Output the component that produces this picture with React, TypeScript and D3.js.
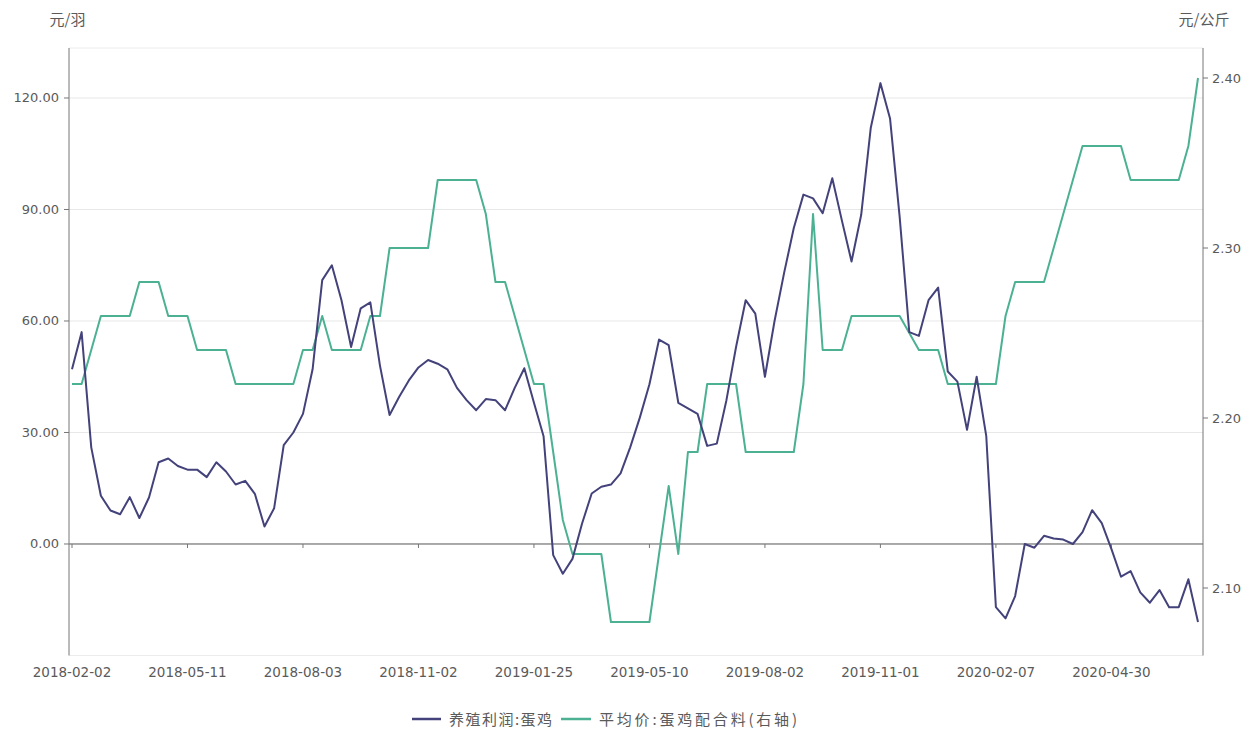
import React from "react";
import * as d3 from "d3";

const profit: number[] = [
  47, 57, 26, 13, 9, 8, 12.6, 7, 12.5, 22,
  23, 21, 20, 20, 18, 22, 19.5, 16, 17, 13.5,
  4.7, 9.6, 26.6, 30, 35, 47, 71, 75, 65.6, 53,
  63.4, 65, 48, 34.7, 39.6, 44, 47.5, 49.5, 48.5, 47,
  42, 38.7, 36, 39, 38.7, 36, 42, 47.3, 38, 29,
  -3, -8, -4, 5.5, 13.6, 15.4, 16, 19, 26, 34,
  43, 55, 53.5, 38, 36.5, 35, 26.4, 27, 38.7, 53,
  65.6, 62, 45, 60, 73, 85, 94, 93, 89, 98.4,
  87, 76, 88.5, 112, 124, 114.5, 88, 57, 56, 65.6,
  69, 46.4, 43.7, 30.7, 45, 29, -17, -20, -14, 0,
  -1, 2.2, 1.5, 1.2, 0, 3.2, 9.1, 5.6, -1.3, -8.8,
  -7.3, -13, -15.8, -12.4, -17, -17, -9.5, -21,
];

const feedPrice: number[] = [
  2.22, 2.22, 2.24, 2.26, 2.26, 2.26, 2.26, 2.28, 2.28, 2.28,
  2.26, 2.26, 2.26, 2.24, 2.24, 2.24, 2.24, 2.22, 2.22, 2.22,
  2.22, 2.22, 2.22, 2.22, 2.24, 2.24, 2.26, 2.24, 2.24, 2.24,
  2.24, 2.26, 2.26, 2.30, 2.30, 2.30, 2.30, 2.30, 2.34, 2.34,
  2.34, 2.34, 2.34, 2.32, 2.28, 2.28, 2.26, 2.24, 2.22, 2.22,
  2.18, 2.14, 2.12, 2.12, 2.12, 2.12, 2.08, 2.08, 2.08, 2.08,
  2.08, 2.12, 2.16, 2.12, 2.18, 2.18, 2.22, 2.22, 2.22, 2.22,
  2.18, 2.18, 2.18, 2.18, 2.18, 2.18, 2.22, 2.32, 2.24, 2.24,
  2.24, 2.26, 2.26, 2.26, 2.26, 2.26, 2.26, 2.25, 2.24, 2.24,
  2.24, 2.22, 2.22, 2.22, 2.22, 2.22, 2.22, 2.26, 2.28, 2.28,
  2.28, 2.28, 2.30, 2.32, 2.34, 2.36, 2.36, 2.36, 2.36, 2.36,
  2.34, 2.34, 2.34, 2.34, 2.34, 2.34, 2.36, 2.40,
];

const xTickLabels: string[] = [
  "2018-02-02", "2018-05-11", "2018-08-03", "2018-11-02", "2019-01-25",
  "2019-05-10", "2019-08-02", "2019-11-01", "2020-02-07", "2020-04-30",
];
const leftTicks: number[] = [0, 30, 60, 90, 120];
const rightTicks: number[] = [2.1, 2.2, 2.3, 2.4];

const seriesNames = ["养殖利润:蛋鸡", "平均价:蛋鸡配合料(右轴)"];
const unitLeft = "元/羽";
const unitRight = "元/公斤";

const W = 1254;
const H = 733;
const plotLeft = 69;
const plotRight = 1203;
const plotTop = 48;
const plotBottom = 655.5;
const LABEL_EVERY = 12;

const PURPLE = "#43427b";
const GREEN = "#4bb192";
const CJK = "'Noto Sans CJK SC', sans-serif";
const NUM = "'DejaVu Sans', sans-serif";
const TEXT = "#5a5a5a";

export default function App() {
  const n = profit.length;
  const x = d3.scaleLinear().domain([0, n - 1]).range([72, 1198]);
  const yL = d3.scaleLinear().domain([-30, 133.45]).range([plotBottom, plotTop]);
  const yR = d3.scaleLinear().domain([2.10 - 67.5 / 1700, 2.40 + 30 / 1700]).range([plotBottom, plotTop]);

  const lineL = d3.line<number>().x((_, i) => x(i)).y((d) => yL(d));
  const lineR = d3.line<number>().x((_, i) => x(i)).y((d) => yR(d));

  const zeroY = yL(0);

  return (
    <svg
      width={W}
      height={H}
      style={{ position: "absolute", left: 0, top: 0, background: "#fff" }}
    >
      <line x1={plotLeft} x2={plotRight} y1={plotTop} y2={plotTop} stroke="#ececec" />
      <line x1={plotLeft} x2={plotRight} y1={plotBottom} y2={plotBottom} stroke="#ececec" />
      {leftTicks.filter((t) => t !== 0).map((t) => (
        <line key={"g" + t} x1={plotLeft} x2={plotRight} y1={yL(t)} y2={yL(t)} stroke="#e8e8e8" />
      ))}
      <line x1={plotLeft} x2={plotRight} y1={zeroY} y2={zeroY} stroke="#555" strokeWidth={1} />
      {xTickLabels.map((lab, k) => {
        const xi = x(k * LABEL_EVERY);
        return (
          <g key={lab}>
            <line x1={xi} x2={xi} y1={zeroY} y2={zeroY + 4} stroke="#777" />
            <text x={xi} y={677} textAnchor="middle" fontSize={13.5} fontFamily={NUM} fill={TEXT}>
              {lab}
            </text>
          </g>
        );
      })}
      <line x1={plotLeft} x2={plotLeft} y1={plotTop} y2={plotBottom} stroke="#777" />
      {leftTicks.map((t) => (
        <g key={"l" + t}>
          <line x1={plotLeft - 5} x2={plotLeft} y1={yL(t)} y2={yL(t)} stroke="#777" />
          <text x={plotLeft - 10} y={yL(t) + 4.5} textAnchor="end" fontSize={13} fontFamily={NUM} fill={TEXT}>
            {t.toFixed(2)}
          </text>
        </g>
      ))}
      <line x1={plotRight} x2={plotRight} y1={plotTop} y2={plotBottom} stroke="#777" />
      {rightTicks.map((t) => (
        <g key={"r" + t}>
          <line x1={plotRight} x2={plotRight + 5} y1={yR(t)} y2={yR(t)} stroke="#777" />
          <text x={plotRight + 9} y={yR(t) + 4.5} textAnchor="start" fontSize={13} fontFamily={NUM} fill={TEXT}>
            {t.toFixed(2)}
          </text>
        </g>
      ))}
      <text x={67.5} y={25} textAnchor="middle" fontSize={15} fontFamily={CJK} fill={TEXT}>
        {unitLeft}
      </text>
      <text x={1204} y={25} textAnchor="middle" fontSize={15} fontFamily={CJK} fill={TEXT}>
        {unitRight}
      </text>
      <path d={lineR(feedPrice) ?? ""} fill="none" stroke={GREEN} strokeWidth={2} strokeLinejoin="round" />
      <path d={lineL(profit) ?? ""} fill="none" stroke={PURPLE} strokeWidth={2} strokeLinejoin="round" />
      <g>
        <line x1={412} x2={441} y1={719} y2={719} stroke={PURPLE} strokeWidth={2.5} />
        <text x={449} y={724.5} fontSize={15} fontFamily={CJK} fill={TEXT} textLength={103} lengthAdjust="spacing">
          {seriesNames[0]}
        </text>
        <line x1={561} x2={591} y1={719} y2={719} stroke={GREEN} strokeWidth={2.5} />
        <text x={599} y={724.5} fontSize={15} fontFamily={CJK} fill={TEXT} textLength={198} lengthAdjust="spacing">
          {seriesNames[1]}
        </text>
      </g>
    </svg>
  );
}
